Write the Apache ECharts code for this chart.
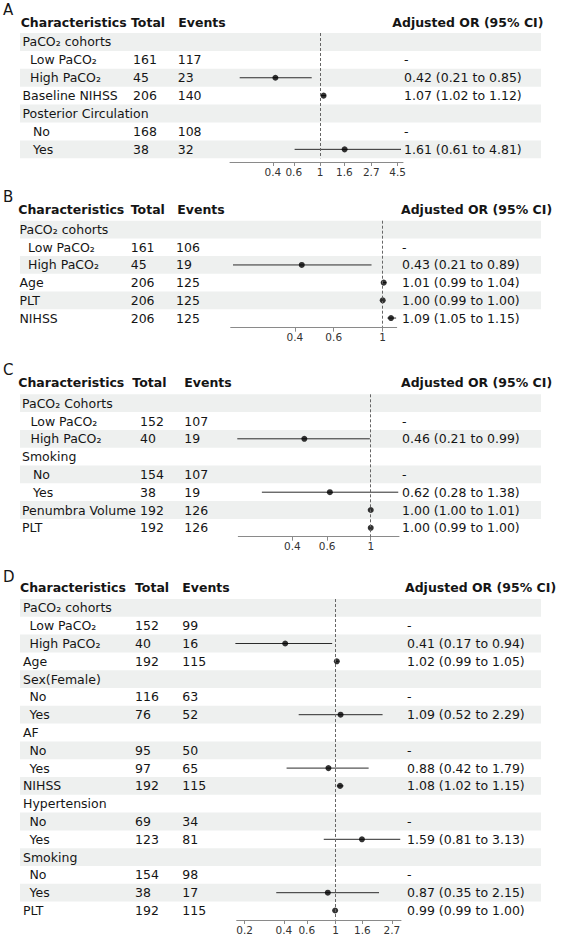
<!DOCTYPE html>
<html>
<head>
<meta charset="utf-8">
<script src="https://cdn.jsdelivr.net/npm/echarts@6/dist/echarts.min.js"></script>
<style>
html, body { margin: 0; padding: 0; background: #fff; }
#chart { width: 563px; height: 938px; }
</style>
</head>
<body>
<div id="chart"></div>
<script>
// ---- panel A ----
var namesA = ['PaCO₂ cohorts', 'Low PaCO₂', 'High PaCO₂', 'Baseline NIHSS', 'Posterior Circulation', 'No', 'Yes'];
var levelA = [0, 1, 1, 0, 0, 2, 2];
var totalA = [null, 161, 45, 206, null, 168, 38];
var eventsA = [null, 117, 23, 140, null, 108, 32];
var orA = [null, null, 0.42, 1.07, null, null, 1.61];
var lowA = [null, null, 0.21, 1.02, null, null, 0.61];
var highA = [null, null, 0.85, 1.12, null, null, 4.81];
var ticksA = [0.4, 0.6, 1, 1.6, 2.7, 4.5];

// ---- panel B ----
var namesB = ['PaCO₂ cohorts', 'Low PaCO₂', 'High PaCO₂', 'Age', 'PLT', 'NIHSS'];
var levelB = [0, 1, 1, 0, 0, 0];
var totalB = [null, 161, 45, 206, 206, 206];
var eventsB = [null, 106, 19, 125, 125, 125];
var orB = [null, null, 0.43, 1.01, 1.00, 1.09];
var lowB = [null, null, 0.21, 0.99, 0.99, 1.05];
var highB = [null, null, 0.89, 1.04, 1.00, 1.15];
var ticksB = [0.4, 0.6, 1];

// ---- panel C ----
var namesC = ['PaCO₂ Cohorts', 'Low PaCO₂', 'High PaCO₂', 'Smoking', 'No', 'Yes', 'Penumbra Volume', 'PLT'];
var levelC = [0, 1, 1, 0, 2, 2, 0, 0];
var totalC = [null, 152, 40, null, 154, 38, 192, 192];
var eventsC = [null, 107, 19, null, 107, 19, 126, 126];
var orC = [null, null, 0.46, null, null, 0.62, 1.00, 1.00];
var lowC = [null, null, 0.21, null, null, 0.28, 1.00, 0.99];
var highC = [null, null, 0.99, null, null, 1.38, 1.01, 1.00];
var ticksC = [0.4, 0.6, 1];

// ---- panel D ----
var namesD = ['PaCO₂ cohorts', 'Low PaCO₂', 'High PaCO₂', 'Age', 'Sex(Female)', 'No', 'Yes', 'AF', 'No', 'Yes',
  'NIHSS', 'Hypertension', 'No', 'Yes', 'Smoking', 'No', 'Yes', 'PLT'];
var levelD = [0, 1, 1, 0, 0, 1, 1, 0, 1, 1, 0, 0, 1, 1, 0, 1, 1, 0];
var totalD = [null, 152, 40, 192, null, 116, 76, null, 95, 97, 192, null, 69, 123, null, 154, 38, 192];
var eventsD = [null, 99, 16, 115, null, 63, 52, null, 50, 65, 115, null, 34, 81, null, 98, 17, 115];
var orD = [null, null, 0.41, 1.02, null, null, 1.09, null, null, 0.88, 1.08, null, null, 1.59, null, null, 0.87, 0.99];
var lowD = [null, null, 0.17, 0.99, null, null, 0.52, null, null, 0.42, 1.02, null, null, 0.81, null, null, 0.35, 0.99];
var highD = [null, null, 0.94, 1.05, null, null, 2.29, null, null, 1.79, 1.15, null, null, 3.13, null, null, 2.15, 1.00];
var ticksD = [0.2, 0.4, 0.6, 1, 1.6, 2.7];

var headers = ['Characteristics', 'Total', 'Events', 'Adjusted OR (95% CI)'];

var FONT = 'DejaVu Sans';
var TXT = '#151515';
var BAND = '#eef0ef';

// layout of each panel (pixels)
var panels = [
  { letter: 'A', names: namesA, level: levelA, total: totalA, events: eventsA, or: orA, low: lowA, high: highA, ticks: ticksA,
    top: 33, rowH: 17.9, axisY: 162, plotLeft: 230, plotRight: 403, xmin: 0.174, xmax: 5.0,
    letterY: 10, headY: 22, headX: [20.7, 131, 178.3, 392.3], indent: [22.5, 30, 33], totalX: 133, eventsX: 177.7, orX: 404 },
  { letter: 'B', names: namesB, level: levelB, total: totalB, events: eventsB, or: orB, low: lowB, high: highB, ticks: ticksB,
    top: 220.7, rowH: 17.7, axisY: 327.7, plotLeft: 230.7, plotRight: 396.7, xmin: 0.205, xmax: 1.157,
    letterY: 197, headY: 209, headX: [18.3, 130.7, 177.3, 401], indent: [19.5, 28, 28], totalX: 130.7, eventsX: 176, orX: 402 },
  { letter: 'C', names: namesC, level: levelC, total: totalC, events: eventsC, or: orC, low: lowC, high: highC, ticks: ticksC,
    top: 394.3, rowH: 17.8, axisY: 536.7, plotLeft: 238.3, plotRight: 399, xmin: 0.2125, xmax: 1.392,
    letterY: 370, headY: 382.7, headX: [18.3, 132.3, 184.3, 401], indent: [22, 30.5, 33], totalX: 140, eventsX: 184.3, orX: 402 },
  { letter: 'D', names: namesD, level: levelD, total: totalD, events: eventsD, or: orD, low: lowD, high: highD, ticks: ticksD,
    top: 599, rowH: 17.8, axisY: 920, plotLeft: 236.7, plotRight: 401, xmin: 0.174, xmax: 3.17,
    letterY: 577, headY: 587.7, headX: [20, 135, 182.3, 405], indent: [23, 29.5, 29.5], totalX: 135, eventsX: 182.3, orX: 407 }
];

var BAND_LEFT = 20, BAND_RIGHT = 541;

var grids = [], xAxes = [], yAxes = [], series = [], graphics = [];

function textAxis(gridIndex, data, x, fontWeight) {
  return {
    gridIndex: gridIndex, type: 'category', data: data, inverse: true, position: 'left', z: 5,
    axisLine: { show: false }, axisTick: { show: false }, splitLine: { show: false },
    axisLabel: {
      inside: true, margin: x - BAND_LEFT, align: 'left', interval: 0,
      fontFamily: FONT, fontSize: 12.5, color: TXT, fontWeight: fontWeight || 'normal'
    }
  };
}

panels.forEach(function (p) {
  var n = p.names.length;
  var h = n * p.rowH;

  // background grid: bands + table text
  var gBg = grids.length;
  grids.push({ left: BAND_LEFT, top: p.top, width: BAND_RIGHT - BAND_LEFT, height: h });
  var xBg = xAxes.length;
  xAxes.push({ gridIndex: gBg, type: 'value', min: 0, max: 1, show: false });

  var yBand = yAxes.length;
  [0, 1, 2].forEach(function (L) {
    yAxes.push(textAxis(gBg, p.names.map(function (s, i) { return p.level[i] === L ? s : ''; }), p.indent[L]));
  });
  yAxes.push(textAxis(gBg, p.total.map(function (v) { return v == null ? '' : String(v); }), p.totalX));
  yAxes.push(textAxis(gBg, p.events.map(function (v) { return v == null ? '' : String(v); }), p.eventsX));
  yAxes.push(textAxis(gBg, p.or.map(function (v, i) {
    if (v == null) return p.total[i] == null ? '' : '-';
    return v.toFixed(2) + ' (' + p.low[i].toFixed(2) + ' to ' + p.high[i].toFixed(2) + ')';
  }), p.orX));

  series.push({
    type: 'bar', xAxisIndex: xBg, yAxisIndex: yBand, silent: true, z: 1,
    barWidth: '100%', itemStyle: { color: BAND },
    data: p.names.map(function (s, i) { return i % 2 === 0 ? 1 : '-'; })
  });

  // plot grid: log odds ratio axis
  var gPl = grids.length;
  grids.push({ left: p.plotLeft, top: p.top, width: p.plotRight - p.plotLeft, height: h });
  var xPl = xAxes.length;
  var tickLn = p.ticks.map(Math.log);
  xAxes.push({
    gridIndex: gPl, type: 'value', min: Math.log(p.xmin), max: Math.log(p.xmax),
    position: 'bottom', offset: p.axisY - (p.top + h),
    axisLine: { show: true, onZero: false, lineStyle: { color: '#8a8a8a', width: 1 } },
    axisTick: { show: true, customValues: tickLn, length: 4, lineStyle: { color: '#8a8a8a' } },
    axisLabel: {
      customValues: tickLn, margin: 4, fontFamily: FONT, fontSize: 10.5, color: '#333',
      formatter: function (v) { return String(Math.round(Math.exp(v) * 10) / 10); }
    },
    splitLine: { show: false }
  });
  var yPl = yAxes.length;
  yAxes.push({ gridIndex: gPl, type: 'category', data: p.names, inverse: true, show: false });

  var ci = [], pts = [];
  p.or.forEach(function (v, i) {
    if (v == null) return;
    ci.push([Math.log(p.low[i]), Math.log(p.high[i]), i]);
    pts.push([Math.log(v), i]);
  });

  series.push({
    type: 'custom', xAxisIndex: xPl, yAxisIndex: yPl, silent: true, z: 3,
    encode: { x: [0, 1], y: 2 },
    data: ci,
    renderItem: function (params, api) {
      var a = api.coord([api.value(0), api.value(2)]);
      var b = api.coord([api.value(1), api.value(2)]);
      return {
        type: 'line',
        shape: { x1: a[0], y1: a[1], x2: b[0], y2: b[1] },
        style: { stroke: '#2b2b2b', lineWidth: 1 }
      };
    }
  });
  series.push({
    type: 'scatter', xAxisIndex: xPl, yAxisIndex: yPl, silent: true, z: 4,
    symbol: 'circle', symbolSize: 6, itemStyle: { color: '#000' },
    data: pts,
    markLine: {
      silent: true, symbol: 'none', label: { show: false },
      lineStyle: { type: [3, 2], color: '#666', width: 1 },
      data: [{ xAxis: 0 }]
    }
  });

  // panel letter and column headers
  graphics.push({
    type: 'text', x: 3, y: p.letterY,
    style: { text: p.letter, font: '15px "' + FONT + '"', fill: TXT, verticalAlign: 'middle' }
  });
  headers.forEach(function (t, k) {
    graphics.push({
      type: 'text', x: p.headX[k], y: p.headY,
      style: { text: t, font: 'bold 12.5px "' + FONT + '"', fill: TXT, verticalAlign: 'middle' }
    });
  });
});

var chart = echarts.init(document.getElementById('chart'), null, { renderer: 'svg' });
chart.setOption({
  animation: false,
  backgroundColor: '#fff',
  grid: grids,
  xAxis: xAxes,
  yAxis: yAxes,
  series: series,
  graphic: graphics
});
</script>
</body>
</html>
